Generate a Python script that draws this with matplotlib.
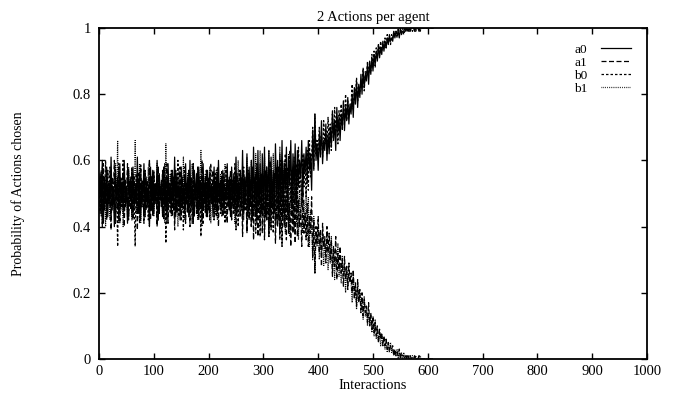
import matplotlib
matplotlib.use('Agg')
import matplotlib.pyplot as plt

plt.rcParams['font.family'] = 'serif'
plt.rcParams['font.serif'] = ['Liberation Serif']
plt.rcParams['font.size'] = 10.5

# interactions, sampled every 2 steps
interactions = list(range(0, 611, 2))

a0 = [
    0.50, 0.56, 0.44, 0.60, 0.41, 0.55, 0.47, 0.58, 0.43, 0.53,
    0.46, 0.61, 0.45, 0.52, 0.40, 0.57, 0.48, 0.55, 0.42, 0.59,
    0.47, 0.54, 0.44, 0.60, 0.46, 0.52, 0.41, 0.57, 0.49, 0.55,
    0.43, 0.58, 0.45, 0.53, 0.47, 0.61, 0.44, 0.56, 0.42, 0.54,
    0.48, 0.59, 0.43, 0.55, 0.46, 0.52, 0.40, 0.58, 0.45, 0.57,
    0.44, 0.53, 0.47, 0.60, 0.42, 0.56, 0.48, 0.54, 0.43, 0.58,
    0.46, 0.55, 0.41, 0.59, 0.47, 0.53, 0.44, 0.57, 0.45, 0.61,
    0.43, 0.56, 0.48, 0.54, 0.42, 0.58, 0.46, 0.52, 0.44, 0.59,
    0.47, 0.55, 0.43, 0.60, 0.45, 0.53, 0.41, 0.57, 0.48, 0.56,
    0.44, 0.58, 0.46, 0.54, 0.42, 0.59, 0.47, 0.55, 0.43, 0.57,
    0.45, 0.56, 0.48, 0.53, 0.43, 0.58, 0.46, 0.55, 0.44, 0.60,
    0.47, 0.54, 0.45, 0.57, 0.44, 0.52, 0.48, 0.59, 0.46, 0.55,
    0.43, 0.58, 0.47, 0.56, 0.45, 0.61, 0.44, 0.54, 0.48, 0.57,
    0.46, 0.63, 0.44, 0.55, 0.49, 0.62, 0.43, 0.58, 0.47, 0.60,
    0.42, 0.64, 0.48, 0.56, 0.41, 0.63, 0.46, 0.59, 0.44, 0.62,
    0.45, 0.64, 0.43, 0.58, 0.49, 0.63, 0.40, 0.61, 0.47, 0.57,
    0.44, 0.65, 0.50, 0.60, 0.42, 0.62, 0.48, 0.66, 0.45, 0.59,
    0.51, 0.64, 0.44, 0.61, 0.53, 0.66, 0.47, 0.62, 0.50, 0.65,
    0.46, 0.63, 0.52, 0.60, 0.55, 0.66, 0.49, 0.62, 0.56, 0.64,
    0.53, 0.66, 0.57, 0.62, 0.51, 0.69, 0.58, 0.74, 0.60, 0.65,
    0.57, 0.68, 0.61, 0.72, 0.59, 0.66, 0.63, 0.71, 0.60, 0.68,
    0.62, 0.70, 0.64, 0.75, 0.66, 0.72, 0.63, 0.76, 0.68, 0.73,
    0.66, 0.74, 0.70, 0.78, 0.69, 0.76, 0.72, 0.79, 0.71, 0.77,
    0.74, 0.80, 0.73, 0.82, 0.77, 0.84, 0.76, 0.83, 0.79, 0.86,
    0.80, 0.87, 0.82, 0.86, 0.84, 0.89, 0.83, 0.90, 0.86, 0.91,
    0.87, 0.92, 0.89, 0.93, 0.90, 0.95, 0.91, 0.94, 0.92, 0.96,
    0.93, 0.96, 0.94, 0.97, 0.95, 0.98, 0.96, 0.97, 0.96, 0.99,
    0.97, 0.99, 0.98, 0.99, 0.97, 1.00, 0.98, 0.99, 0.99, 1.00,
    0.99, 1.00, 0.99, 1.00, 0.99, 1.00, 1.00, 1.00, 0.99, 1.00,
    1.00, 1.00, 0.99, 1.00, 1.00, 1.00, 1.00, 1.00, 1.00, 1.00,
    1.00, 1.00, 1.00, 1.00, 1.00, 1.00,
]

a1 = [
    0.50, 0.44, 0.56, 0.40, 0.59, 0.45, 0.53, 0.42, 0.57, 0.47,
    0.54, 0.39, 0.55, 0.48, 0.60, 0.43, 0.52, 0.45, 0.58, 0.41,
    0.53, 0.46, 0.56, 0.40, 0.54, 0.48, 0.59, 0.43, 0.51, 0.45,
    0.57, 0.42, 0.55, 0.47, 0.53, 0.39, 0.56, 0.44, 0.58, 0.46,
    0.52, 0.41, 0.57, 0.45, 0.54, 0.48, 0.60, 0.42, 0.55, 0.43,
    0.56, 0.47, 0.53, 0.40, 0.58, 0.44, 0.52, 0.46, 0.57, 0.42,
    0.54, 0.45, 0.59, 0.41, 0.53, 0.47, 0.56, 0.43, 0.55, 0.39,
    0.57, 0.44, 0.52, 0.46, 0.58, 0.42, 0.54, 0.48, 0.56, 0.41,
    0.53, 0.45, 0.57, 0.40, 0.55, 0.47, 0.59, 0.43, 0.52, 0.44,
    0.56, 0.42, 0.54, 0.46, 0.58, 0.41, 0.53, 0.45, 0.57, 0.43,
    0.55, 0.44, 0.52, 0.47, 0.57, 0.42, 0.54, 0.45, 0.56, 0.40,
    0.53, 0.46, 0.55, 0.43, 0.56, 0.48, 0.52, 0.41, 0.54, 0.45,
    0.57, 0.42, 0.53, 0.44, 0.55, 0.39, 0.56, 0.46, 0.52, 0.43,
    0.54, 0.37, 0.56, 0.45, 0.51, 0.38, 0.57, 0.42, 0.53, 0.40,
    0.58, 0.36, 0.52, 0.44, 0.59, 0.37, 0.54, 0.41, 0.56, 0.38,
    0.55, 0.36, 0.57, 0.42, 0.51, 0.37, 0.60, 0.39, 0.53, 0.43,
    0.56, 0.35, 0.50, 0.40, 0.58, 0.38, 0.52, 0.34, 0.55, 0.41,
    0.49, 0.36, 0.56, 0.39, 0.47, 0.34, 0.53, 0.38, 0.50, 0.35,
    0.54, 0.37, 0.48, 0.40, 0.45, 0.34, 0.51, 0.38, 0.44, 0.36,
    0.47, 0.34, 0.43, 0.38, 0.49, 0.31, 0.42, 0.26, 0.40, 0.35,
    0.43, 0.32, 0.39, 0.28, 0.41, 0.34, 0.37, 0.29, 0.40, 0.32,
    0.38, 0.30, 0.36, 0.25, 0.34, 0.28, 0.37, 0.24, 0.32, 0.27,
    0.34, 0.26, 0.30, 0.22, 0.31, 0.24, 0.28, 0.21, 0.29, 0.23,
    0.26, 0.20, 0.27, 0.18, 0.23, 0.16, 0.24, 0.17, 0.21, 0.14,
    0.20, 0.13, 0.18, 0.14, 0.16, 0.11, 0.17, 0.10, 0.14, 0.09,
    0.13, 0.08, 0.11, 0.07, 0.10, 0.05, 0.09, 0.06, 0.08, 0.04,
    0.07, 0.04, 0.06, 0.03, 0.05, 0.02, 0.04, 0.03, 0.04, 0.01,
    0.03, 0.01, 0.02, 0.01, 0.03, 0.00, 0.02, 0.01, 0.01, 0.00,
    0.01, 0.00, 0.01, 0.00, 0.01, 0.00, 0.00, 0.00, 0.01, 0.00,
    0.00, 0.00, 0.01, 0.00, 0.00, 0.00, 0.00, 0.00, 0.00, 0.00,
    0.00, 0.00, 0.00, 0.00, 0.00, 0.00,
]

b0 = [
    0.52, 0.45, 0.57, 0.42, 0.55, 0.48, 0.60, 0.44, 0.53, 0.47,
    0.58, 0.43, 0.54, 0.49, 0.56, 0.41, 0.52, 0.34, 0.59, 0.45,
    0.55, 0.47, 0.60, 0.43, 0.52, 0.48, 0.57, 0.42, 0.54, 0.46,
    0.58, 0.44, 0.51, 0.34, 0.56, 0.45, 0.53, 0.41, 0.59, 0.47,
    0.54, 0.43, 0.57, 0.48, 0.52, 0.42, 0.60, 0.46, 0.55, 0.44,
    0.57, 0.49, 0.53, 0.41, 0.58, 0.45, 0.51, 0.47, 0.56, 0.43,
    0.59, 0.35, 0.54, 0.46, 0.52, 0.44, 0.57, 0.48, 0.53, 0.42,
    0.56, 0.45, 0.60, 0.43, 0.51, 0.47, 0.55, 0.39, 0.58, 0.46,
    0.53, 0.44, 0.57, 0.48, 0.54, 0.41, 0.59, 0.45, 0.52, 0.47,
    0.58, 0.43, 0.55, 0.37, 0.60, 0.46, 0.53, 0.44, 0.57, 0.48,
    0.54, 0.42, 0.59, 0.47, 0.52, 0.45, 0.56, 0.43, 0.58, 0.49,
    0.53, 0.44, 0.57, 0.46, 0.55, 0.41, 0.58, 0.48, 0.52, 0.45,
    0.56, 0.43, 0.54, 0.47, 0.59, 0.44, 0.53, 0.40, 0.57, 0.46,
    0.55, 0.42, 0.58, 0.45, 0.53, 0.39, 0.56, 0.44, 0.54, 0.40,
    0.57, 0.43, 0.55, 0.38, 0.58, 0.45, 0.52, 0.37, 0.56, 0.44,
    0.53, 0.39, 0.57, 0.42, 0.55, 0.37, 0.59, 0.44, 0.52, 0.38,
    0.56, 0.41, 0.58, 0.46, 0.54, 0.36, 0.60, 0.43, 0.57, 0.40,
    0.62, 0.45, 0.58, 0.38, 0.63, 0.47, 0.57, 0.42, 0.61, 0.48,
    0.59, 0.44, 0.64, 0.50, 0.57, 0.46, 0.62, 0.52, 0.60, 0.49,
    0.63, 0.51, 0.66, 0.55, 0.61, 0.70, 0.57, 0.74, 0.62, 0.66,
    0.60, 0.70, 0.63, 0.68, 0.61, 0.72, 0.65, 0.69, 0.62, 0.73,
    0.66, 0.71, 0.63, 0.74, 0.67, 0.76, 0.69, 0.73, 0.65, 0.75,
    0.71, 0.77, 0.69, 0.75, 0.73, 0.80, 0.72, 0.78, 0.74, 0.76,
    0.77, 0.83, 0.75, 0.81, 0.79, 0.85, 0.78, 0.82, 0.80, 0.84,
    0.83, 0.88, 0.81, 0.87, 0.85, 0.90, 0.86, 0.89, 0.87, 0.92,
    0.89, 0.93, 0.88, 0.94, 0.91, 0.95, 0.92, 0.96, 0.93, 0.95,
    0.95, 0.97, 0.94, 0.98, 0.96, 0.97, 0.95, 0.98, 0.97, 0.99,
    0.98, 0.99, 0.97, 1.00, 0.98, 0.99, 0.99, 1.00, 0.98, 0.99,
    1.00, 0.99, 1.00, 0.99, 1.00, 1.00, 0.99, 1.00, 1.00, 0.99,
    1.00, 1.00, 1.00, 0.99, 1.00, 1.00, 1.00, 1.00, 1.00, 1.00,
    1.00, 1.00, 1.00, 1.00, 1.00, 1.00,
]

b1 = [
    0.48, 0.55, 0.43, 0.58, 0.45, 0.52, 0.40, 0.56, 0.47, 0.53,
    0.42, 0.57, 0.46, 0.51, 0.44, 0.59, 0.48, 0.66, 0.41, 0.55,
    0.45, 0.53, 0.40, 0.57, 0.48, 0.52, 0.43, 0.58, 0.46, 0.54,
    0.42, 0.56, 0.49, 0.66, 0.44, 0.55, 0.47, 0.59, 0.41, 0.53,
    0.46, 0.57, 0.43, 0.52, 0.48, 0.58, 0.40, 0.54, 0.45, 0.56,
    0.43, 0.51, 0.47, 0.59, 0.42, 0.55, 0.49, 0.53, 0.44, 0.57,
    0.41, 0.65, 0.46, 0.54, 0.48, 0.56, 0.43, 0.52, 0.47, 0.58,
    0.44, 0.55, 0.40, 0.57, 0.49, 0.53, 0.45, 0.61, 0.42, 0.54,
    0.47, 0.56, 0.43, 0.52, 0.46, 0.59, 0.41, 0.55, 0.48, 0.53,
    0.42, 0.57, 0.45, 0.63, 0.40, 0.54, 0.47, 0.56, 0.43, 0.52,
    0.46, 0.58, 0.41, 0.53, 0.48, 0.55, 0.44, 0.57, 0.42, 0.51,
    0.47, 0.56, 0.43, 0.54, 0.45, 0.59, 0.42, 0.52, 0.48, 0.55,
    0.44, 0.57, 0.46, 0.53, 0.41, 0.56, 0.47, 0.60, 0.43, 0.54,
    0.45, 0.58, 0.42, 0.55, 0.47, 0.61, 0.44, 0.56, 0.46, 0.60,
    0.43, 0.57, 0.45, 0.62, 0.42, 0.55, 0.48, 0.63, 0.44, 0.56,
    0.47, 0.61, 0.43, 0.58, 0.45, 0.63, 0.41, 0.56, 0.48, 0.62,
    0.44, 0.59, 0.42, 0.54, 0.46, 0.64, 0.40, 0.57, 0.43, 0.60,
    0.38, 0.55, 0.42, 0.62, 0.37, 0.53, 0.43, 0.58, 0.39, 0.52,
    0.41, 0.56, 0.36, 0.50, 0.43, 0.54, 0.38, 0.48, 0.40, 0.51,
    0.37, 0.49, 0.34, 0.45, 0.39, 0.30, 0.43, 0.26, 0.38, 0.34,
    0.40, 0.30, 0.37, 0.32, 0.39, 0.28, 0.35, 0.31, 0.38, 0.27,
    0.34, 0.29, 0.37, 0.26, 0.33, 0.24, 0.31, 0.27, 0.35, 0.25,
    0.29, 0.23, 0.31, 0.25, 0.27, 0.20, 0.28, 0.22, 0.26, 0.24,
    0.23, 0.17, 0.25, 0.19, 0.21, 0.15, 0.22, 0.18, 0.20, 0.16,
    0.17, 0.12, 0.19, 0.13, 0.15, 0.10, 0.14, 0.11, 0.13, 0.08,
    0.11, 0.07, 0.12, 0.06, 0.09, 0.05, 0.08, 0.04, 0.07, 0.05,
    0.05, 0.03, 0.06, 0.02, 0.04, 0.03, 0.05, 0.02, 0.03, 0.01,
    0.02, 0.01, 0.03, 0.00, 0.02, 0.01, 0.01, 0.00, 0.02, 0.01,
    0.00, 0.01, 0.00, 0.01, 0.00, 0.00, 0.01, 0.00, 0.00, 0.01,
    0.00, 0.00, 0.00, 0.01, 0.00, 0.00, 0.00, 0.00, 0.00, 0.00,
    0.00, 0.00, 0.00, 0.00, 0.00, 0.00,
]

x_ticks = [0, 100, 200, 300, 400, 500, 600, 700, 800, 900, 1000]
y_ticks = [0, 0.2, 0.4, 0.6, 0.8, 1]
y_tick_labels = ['0', '0.2', '0.4', '0.6', '0.8', '1']

fig = plt.figure(figsize=(6.81, 4.0), dpi=100)
ax = fig.add_axes([0.1454, 0.1025, 0.8046, 0.8275])

lw = 0.9
ax.plot(interactions, a0, color='black', linewidth=lw, linestyle='-', label='a0')
ax.plot(interactions, a1, color='black', linewidth=lw, linestyle=(0, (4, 2)), label='a1')
ax.plot(interactions, b0, color='black', linewidth=lw, linestyle=(0, (2, 1.6)), label='b0')
ax.plot(interactions, b1, color='black', linewidth=lw, linestyle=(0, (0.6, 0.9)), label='b1')

ax.set_xlim(0, 1000)
ax.set_ylim(0, 1)
ax.set_xticks(x_ticks)
ax.set_yticks(y_ticks)
ax.set_yticklabels(y_tick_labels)
ax.tick_params(direction='in', top=True, right=True, length=4.5, width=1, pad=4)
ax.tick_params(axis='y', pad=6)
for s in ax.spines.values():
    s.set_linewidth(1.3)

ax.set_title('2 Actions per agent', fontsize=10.5, pad=5)
ax.set_xlabel('Interactions', fontsize=10.5, labelpad=1)
ax.set_ylabel('Probability of Actions chosen', fontsize=10, labelpad=34)

leg = ax.legend(loc='upper right', bbox_to_anchor=(0.983, 0.972), frameon=False,
                markerfirst=False, handlelength=2.3, handletextpad=1.0,
                labelspacing=0.05, borderpad=0, fontsize=9.5)

fig.savefig('out.png', dpi=100)
